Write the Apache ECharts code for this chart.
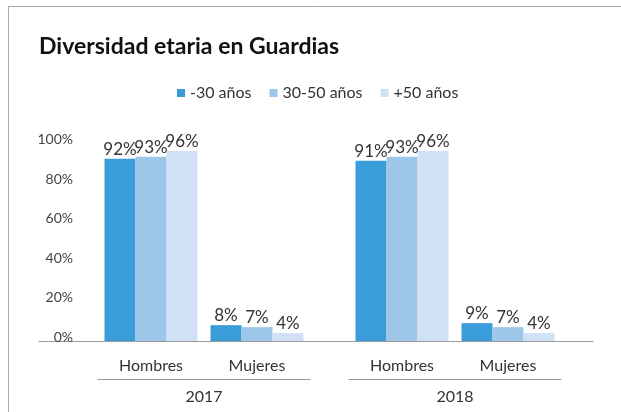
<!DOCTYPE html>
<html><head><meta charset="utf-8">
<script src="https://cdn.jsdelivr.net/npm/echarts@6/dist/echarts.min.js"></script>
<style>html,body{margin:0;padding:0;background:#fff}#c{width:621px;height:412px}</style>
</head><body><div id="c"></div>
<script>
const title = 'Diversidad etaria en Guardias';
const seriesNames = ['-30 años', '30-50 años', '+50 años'];
const categories = ['Hombres', 'Mujeres'];
const years = ['2017', '2018'];
const values2017 = { '-30 años': [92, 8], '30-50 años': [93, 7], '+50 años': [96, 4] };
const values2018 = { '-30 años': [91, 9], '30-50 años': [93, 7], '+50 años': [96, 4] };
const yTicks = [0, 20, 40, 60, 80, 100];
const colors = ['#3A9DDA', '#9DC6E9', '#D0E1F6'];

(function () {
const chart = echarts.init(document.getElementById('c'), null, {renderer: 'canvas'});
const FONT = 'Lato';
const gTop = 143, gBottom = 71;
const grids = [
  {left: 39, right: 28, top: gTop, bottom: gBottom},
  {left: 98, width: 212, top: gTop, bottom: gBottom},
  {left: 349, width: 212, top: gTop, bottom: gBottom}
];
const yAxes = grids.map((g, i) => ({
  type: 'value', gridIndex: i, min: yTicks[0], max: yTicks[yTicks.length - 1], interval: yTicks[1] - yTicks[0],
  show: i === 0,
  splitLine: {show: false}, axisLine: {show: false}, axisTick: {show: false},
  axisLabel: {formatter: '{value}%', margin: -34, color: '#444', fontSize: 14, fontFamily: FONT, verticalAlign: 'bottom', lineHeight: 7}
}));
const xAxes = [
  {type: 'category', gridIndex: 0, data: [''], axisLine: {lineStyle: {color: '#9a9a9a', width: 1}}, axisTick: {show: false}, axisLabel: {show: false}}
];
[1, 2].forEach((gi, k) => {
  xAxes.push({type: 'category', gridIndex: gi, data: categories,
    axisLine: {show: false}, axisTick: {show: false},
    axisLabel: {margin: 17, color: '#333', fontSize: 16, fontFamily: FONT}});
  xAxes.push({type: 'category', gridIndex: gi, data: [years[k]], position: 'bottom', offset: 38,
    axisLine: {show: true, lineStyle: {color: '#9a9a9a', width: 1}}, axisTick: {show: false},
    axisLabel: {margin: 10, color: '#333', fontSize: 16, fontFamily: FONT}});
});
const series = [];
[values2017, values2018].forEach((vals, k) => {
  seriesNames.forEach((name, j) => {
    series.push({
      name, type: 'bar', xAxisIndex: 1 + k * 2, yAxisIndex: 1 + k,
      data: vals[name], barWidth: 31, barGap: '0%',
      itemStyle: {color: colors[j]},
      label: {show: true, position: 'top', distance: 1, formatter: '{c}%', color: '#333', fontSize: 17, fontFamily: FONT}
    });
  });
});
chart.setOption({
  animation: false,
  color: colors,
  title: {text: title, left: 34, top: 30, textStyle: {fontFamily: FONT, fontWeight: 'bold', fontSize: 23, color: '#111'}},
  legend: {data: seriesNames, top: 80, left: 172, icon: 'rect', itemWidth: 8, itemHeight: 8, itemGap: 18,
    textStyle: {fontFamily: FONT, fontSize: 16, color: '#333'}},
  grid: grids, xAxis: xAxes, yAxis: yAxes, series,
  graphic: [
    {type: 'line', shape: {x1: 8, y1: 6.5, x2: 621, y2: 6.5}, style: {stroke: '#aaa', lineWidth: 1}},
    {type: 'line', shape: {x1: 8.5, y1: 6, x2: 8.5, y2: 412}, style: {stroke: '#aaa', lineWidth: 1}}
  ]
});
})();
</script></body></html>
